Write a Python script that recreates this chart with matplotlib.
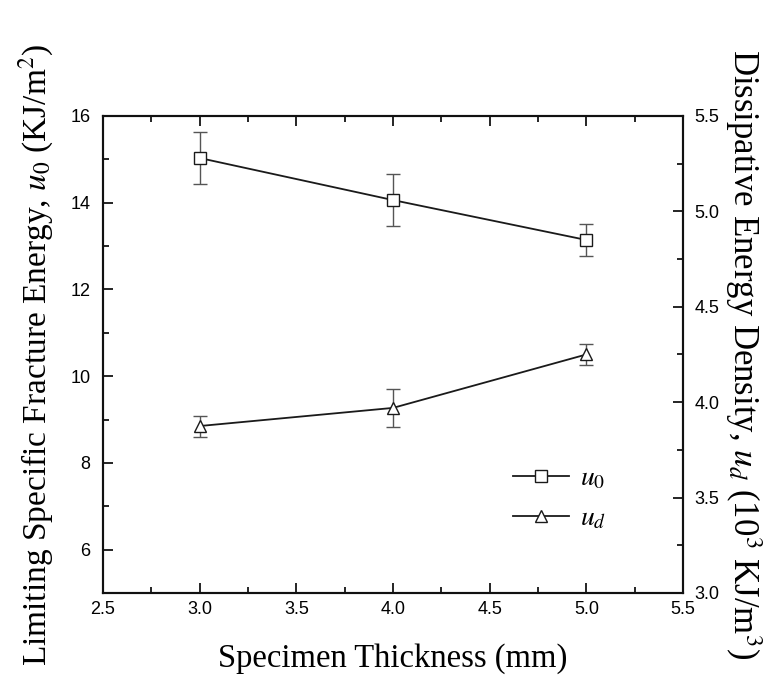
import matplotlib.pyplot as plt
from matplotlib.ticker import MultipleLocator

plt.rcParams["mathtext.fontset"] = "stix"

# specimen thickness (mm)
thickness = [3.0, 4.0, 5.0]

# limiting specific fracture energy u0 (KJ/m^2)
u0 = [15.03, 14.06, 13.14]
u0_err = [0.60, 0.60, 0.37]

# dissipative energy density ud (10^3 KJ/m^3)
ud = [3.875, 3.97, 4.25]
ud_err = [0.055, 0.10, 0.055]

serif = "Liberation Serif"
sans = "Liberation Sans"

fig = plt.figure(figsize=(7.64, 6.82), dpi=100)
ax = fig.add_axes([0.1348, 0.1305, 0.7592, 0.6995])
ax2 = ax.twinx()

line_kw = dict(color="#1a1a1a", lw=1.3, markersize=8, markerfacecolor="white",
               markeredgecolor="#1a1a1a", markeredgewidth=1.0,
               ecolor="#555555", elinewidth=1.0, capsize=5, capthick=1.0)

h1 = ax.errorbar(thickness, u0, yerr=u0_err, marker="s", **line_kw)
h2 = ax2.errorbar(thickness, ud, yerr=ud_err, marker="^", **line_kw)

ax.set_xlim(2.5, 5.5)
ax.set_ylim(5, 16)
ax2.set_ylim(3.0, 5.5)

ax.xaxis.set_major_locator(MultipleLocator(0.5))
ax.xaxis.set_minor_locator(MultipleLocator(0.25))
ax.yaxis.set_minor_locator(MultipleLocator(1))
ax.set_yticks([6, 8, 10, 12, 14, 16])
ax2.yaxis.set_major_locator(MultipleLocator(0.5))
ax2.yaxis.set_minor_locator(MultipleLocator(0.25))

for a in (ax, ax2):
    for s in a.spines.values():
        s.set_linewidth(1.5)
        s.set_color("#111111")
    a.tick_params(which="both", direction="in", labelsize=13, width=1.2)
    a.tick_params(which="major", length=7)
    a.tick_params(which="minor", length=4)
ax.tick_params(which="both", top=True)
ax.tick_params(axis="y", pad=9)
ax.tick_params(axis="x", pad=6)
ax2.tick_params(axis="y", pad=8)
for lab in ax.get_xticklabels() + ax.get_yticklabels() + ax2.get_yticklabels():
    lab.set_family(sans)

ax.set_xlabel("Specimen Thickness (mm)", family=serif, fontsize=23.5, labelpad=18)
ax.set_ylabel(r"Limiting Specific Fracture Energy, $\mathit{u}_{\mathit{0}}$ (KJ/m$^2$)",
              family=serif, fontsize=24, labelpad=10)
ax2.set_ylabel(r"Dissipative Energy Density, $\mathit{u}_{\mathit{d}}$ (10$^3$ KJ/m$^3$)",
               family=serif, fontsize=25, rotation=270, labelpad=32)

ax.legend([h1[0], h2[0]], [r"$\mathit{u}_{\mathit{0}}$", r"$\mathit{u}_{\mathit{d}}$"],
          loc="upper left", bbox_to_anchor=(0.707, 0.272), frameon=False,
          borderpad=0, borderaxespad=0, handlelength=2.0, labelspacing=0.45,
          fontsize=20, handletextpad=0.4)

fig.savefig("out.png", dpi=100)
